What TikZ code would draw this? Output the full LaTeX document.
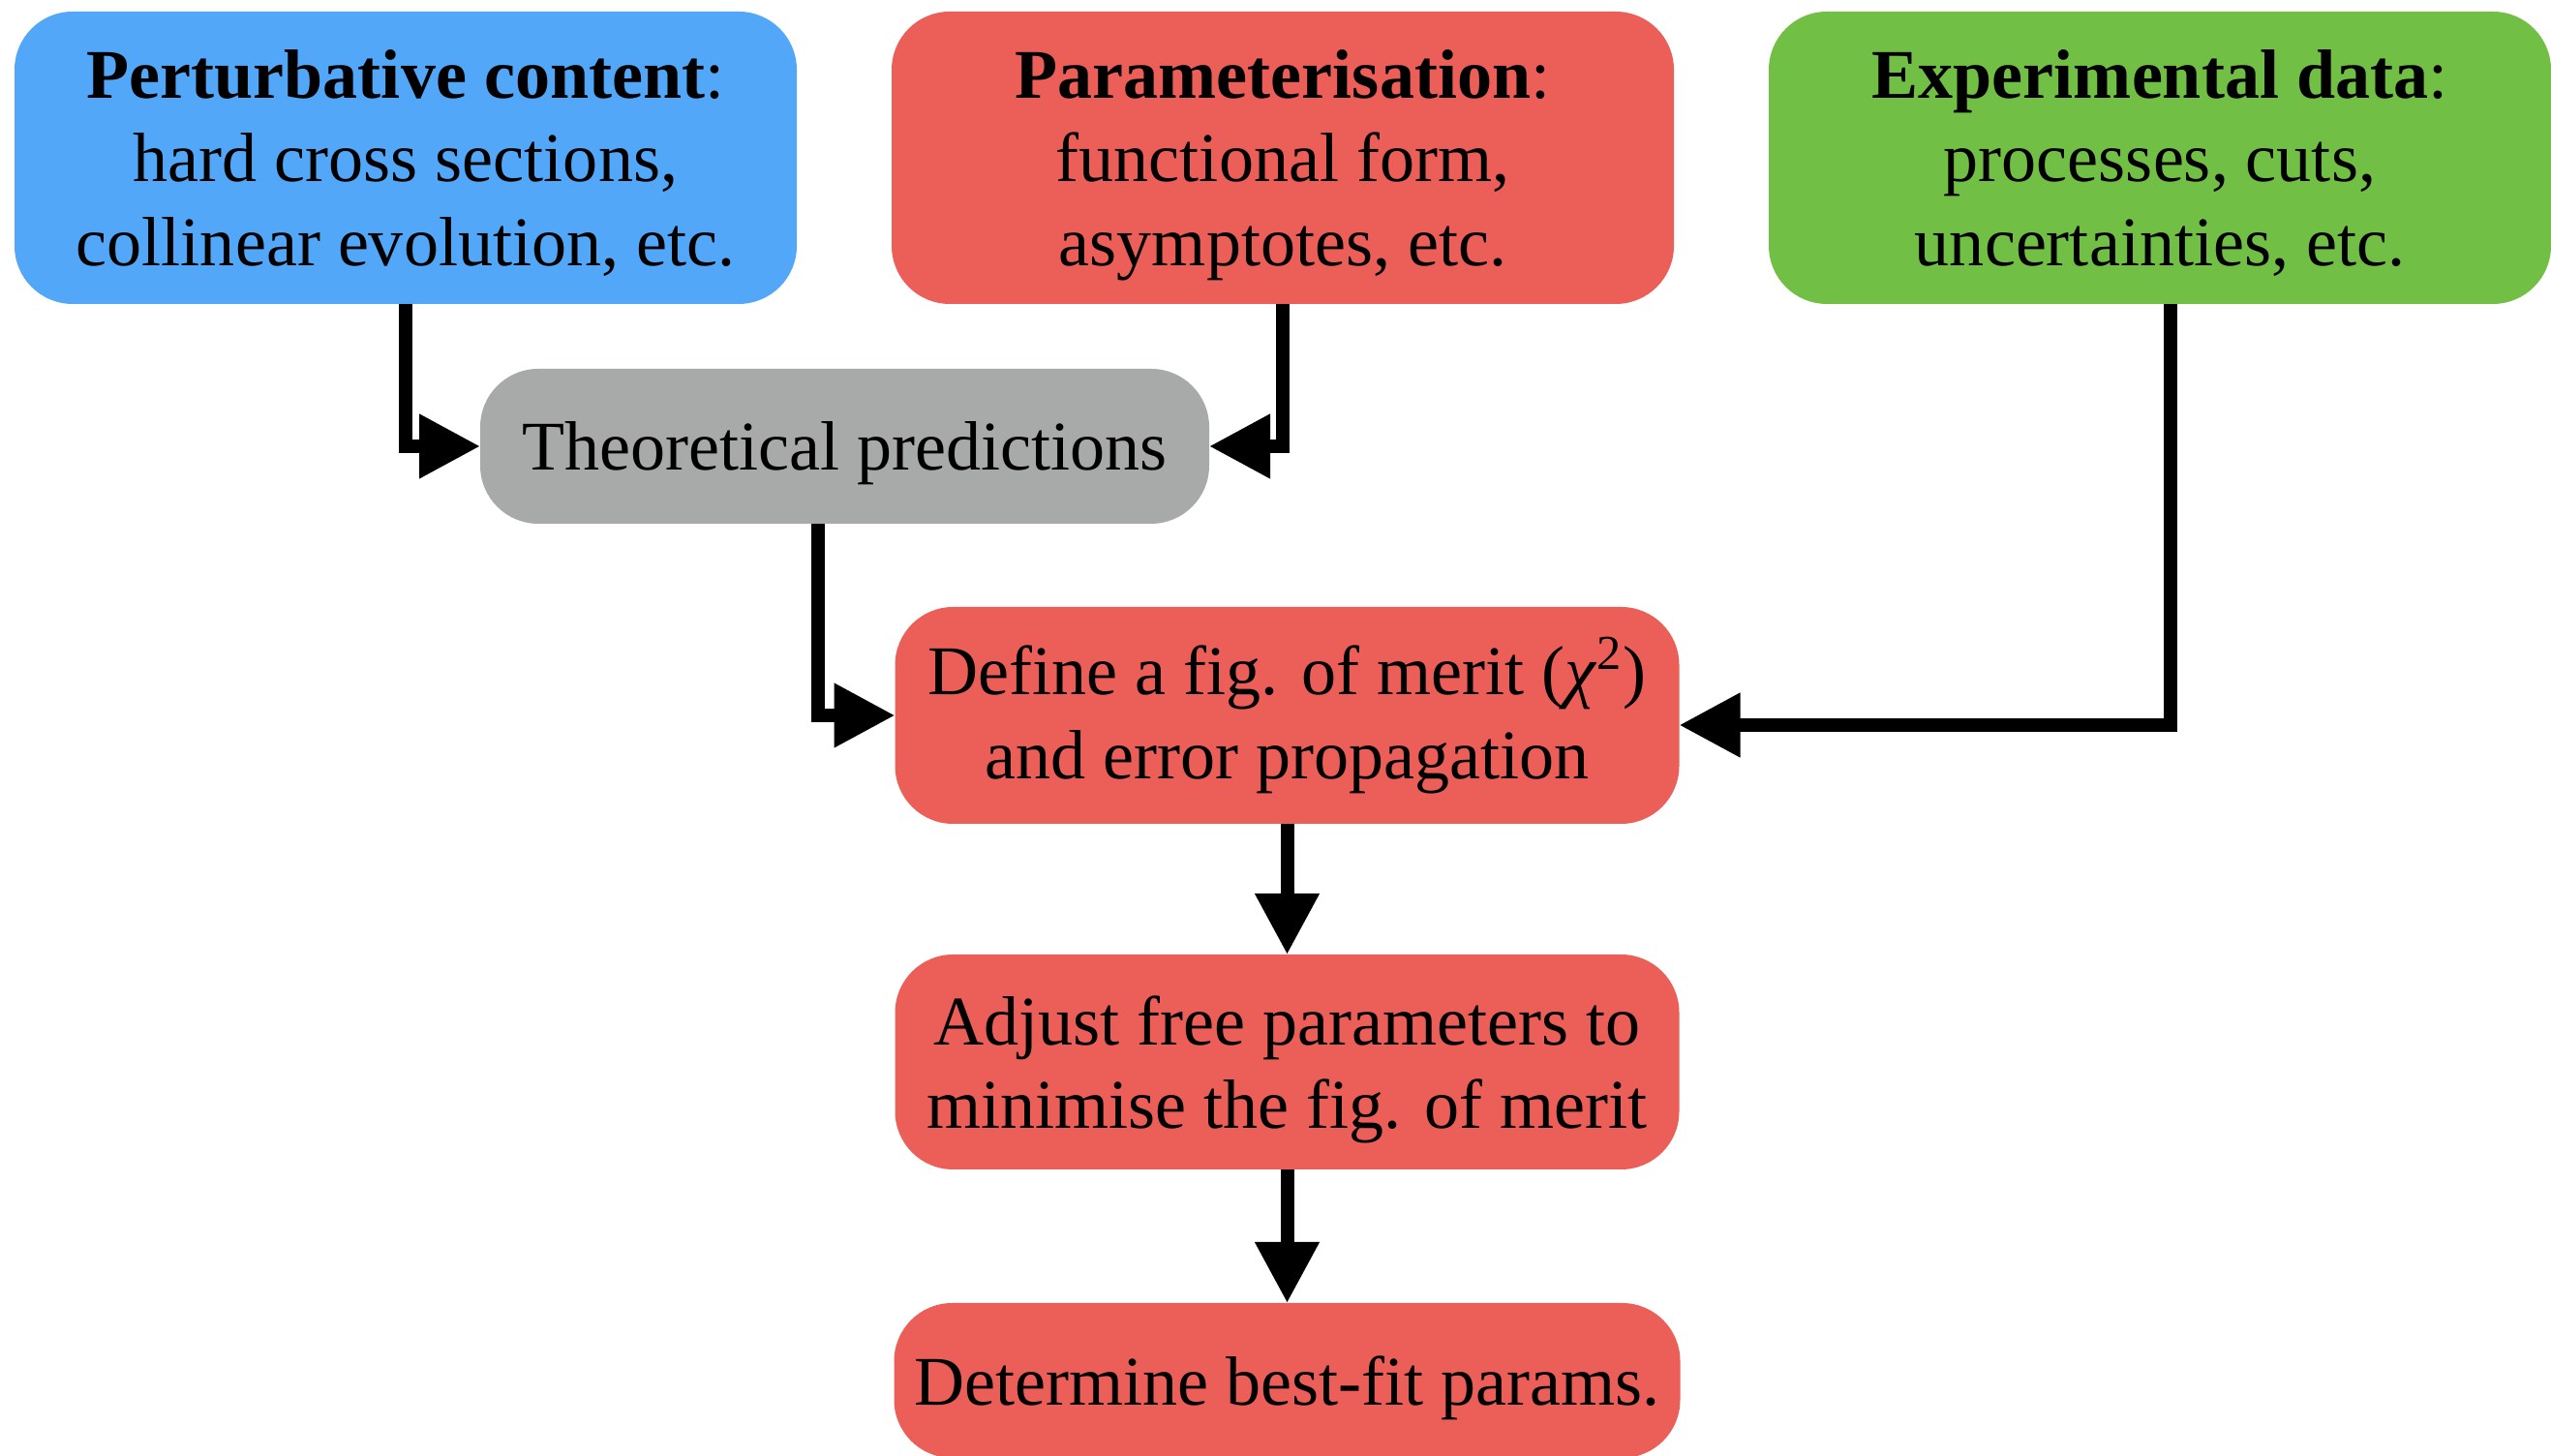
\documentclass[tikz,border=0pt]{standalone}
\usepackage{fontspec}
\setmainfont{Liberation Serif}
\usetikzlibrary{arrows.meta}
\definecolor{inblue}{RGB}{82,167,248}
\definecolor{fitred}{RGB}{236,94,88}
\definecolor{datagreen}{RGB}{113,191,68}
\definecolor{theogray}{RGB}{167,170,169}
\begin{document}
\begin{tikzpicture}[>={Triangle[length=6.3mm,width=6.3mm]}, line width=1.4mm,
	box/.style={rounded corners=6mm, inner sep=0pt, outer sep=0pt, align=center, minimum width=8.08cm, text depth=0pt, font=\fontsize{20.5}{24.5}\selectfont}]
	\useasboundingbox (0,0) rectangle (26.35,15.04);
	% inputs
	\node[box, fill=inblue, minimum height=3.02cm] (pert) at (4.19,13.41) {\textbf{Perturbative content}:\\hard cross sections,\\collinear evolution, etc.};
	\node[box, fill=fitred, minimum height=3.02cm] (param) at (13.25,13.41) {\textbf{Parameterisation}:\\functional form,\\asymptotes, etc.};
	\node[box, fill=datagreen, minimum height=3.02cm] (data) at (22.31,13.41) {\textbf{Experimental data}:\\processes, cuts,\\uncertainties, etc.};
	\node[box, fill=theogray, minimum width=7.53cm, minimum height=1.6cm] (theo) at (8.725,10.43) {Theoretical predictions};
	% fit chain
	\node[box, fill=fitred, minimum width=8.1cm, minimum height=2.24cm, text depth=4.5pt] (merit) at (13.295,7.65) {Define a fig. of merit (\textit{χ}\textsuperscript{2})\\and error propagation};
	\node[box, fill=fitred, minimum width=8.1cm, minimum height=2.22cm] (adjust) at (13.295,4.07) {Adjust free parameters to\\minimise the fig. of merit};
	\node[box, fill=fitred, minimum width=8.12cm, minimum height=1.6cm] (best) at (13.295,0.78) {Determine best-fit params.};
	
	\draw[->] (pert.south) |- (theo.west);
	\draw[->] (param.south) |- (theo.east);
	\draw[->] ([xshift=-2.8mm]theo.south) |- (merit.west);
	\draw[->] ([xshift=1.1mm]data.south) |- ([yshift=-1mm]merit.east);
	\draw[->] (merit.south) -- (adjust.north);
	\draw[->] (adjust.south) -- (best.north);
\end{tikzpicture}
\end{document}
